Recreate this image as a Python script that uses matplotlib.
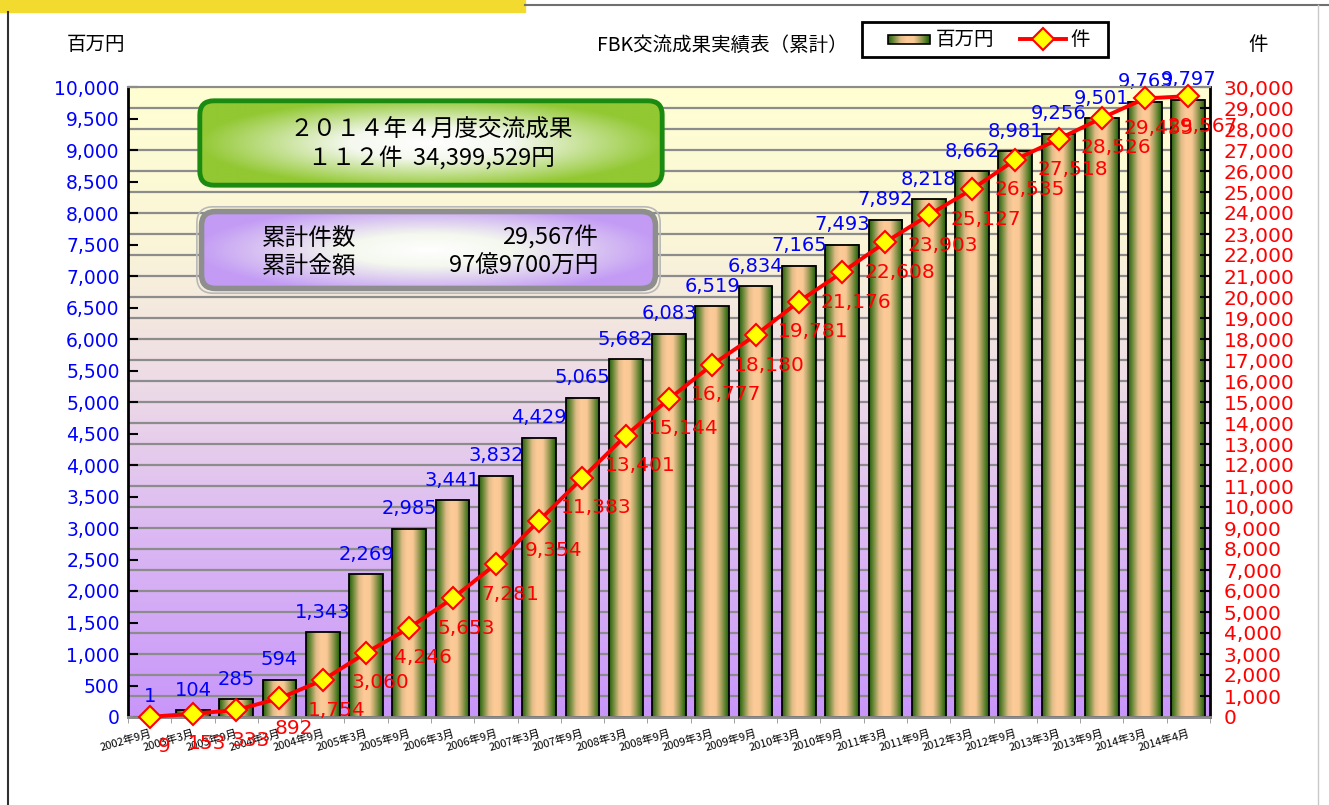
import numpy as np
import matplotlib
matplotlib.use('Agg')
import matplotlib.pyplot as plt
from matplotlib.colors import LinearSegmentedColormap
from matplotlib.patches import FancyBboxPatch, Rectangle
from matplotlib.lines import Line2D

plt.rcParams['font.family'] = ['Noto Sans CJK JP', 'DejaVu Sans']

# データ
periods = ['2002年9月', '2003年3月', '2003年9月', '2004年3月', '2004年9月',
           '2005年3月', '2005年9月', '2006年3月', '2006年9月', '2007年3月',
           '2007年9月', '2008年3月', '2008年9月', '2009年3月', '2009年9月',
           '2010年3月', '2010年9月', '2011年3月', '2011年9月', '2012年3月',
           '2012年9月', '2013年3月', '2013年9月', '2014年3月', '2014年4月']
amount = [1, 104, 285, 594, 1343, 2269, 2985, 3441, 3832, 4429, 5065, 5682, 6083,
          6519, 6834, 7165, 7493, 7892, 8218, 8662, 8981, 9256, 9501, 9763, 9797]
count = [9, 153, 333, 892, 1754, 3060, 4246, 5653, 7281, 9354, 11383, 13401, 15144,
         16777, 18180, 19781, 21176, 22608, 23903, 25127, 26535, 27518, 28526, 29455, 29567]
left_ticks = list(range(0, 10001, 500))
right_ticks = list(range(0, 30001, 1000))

W, H = 1329, 805
NUM = 'DejaVu Sans'


def fx(x):
    return x / W


def fy(y):
    return 1 - y / H


fig = plt.figure(figsize=(W / 100, H / 100), dpi=100)
fig.patch.set_facecolor('white')

# 枠の飾り
fig.patches.append(Rectangle((0, fy(12)), fx(525), 12 / H, transform=fig.transFigure,
                             color='#F2DA2E', zorder=0))
fig.lines.append(Line2D([fx(525), 1], [fy(5), fy(5)], transform=fig.transFigure,
                        color='#707070', lw=1.5))
fig.lines.append(Line2D([fx(8), fx(8)], [0, fy(12)], transform=fig.transFigure,
                        color='#303030', lw=1.5))
fig.lines.append(Line2D([fx(1318), fx(1318)], [0, fy(5)], transform=fig.transFigure,
                        color='#C8C8C8', lw=1))

ax = fig.add_axes([fx(128), fy(717), fx(1210 - 128), (717 - 87) / H])
ax2 = ax.twinx()

x = np.arange(len(periods))

# 背景グラデーション
bg_cmap = LinearSegmentedColormap.from_list(
    'bg', [(0, '#C896FA'), (0.3, '#DCBAF2'), (0.5, '#EBD7E8'), (0.75, '#FAF5D8'), (1, '#FFFFD2')])
ax.imshow(np.linspace(0, 1, 256).reshape(-1, 1), cmap=bg_cmap, origin='lower',
          extent=[-0.5, len(x) - 0.5, 0, 10000], aspect='auto', zorder=0)

for g in right_ticks[1:-1]:
    ax.axhline(g / 3, color='#8C8C8C', lw=1.6, zorder=1)

# 棒グラフ
bar_cmap = LinearSegmentedColormap.from_list(
    'bar', [(0, '#2A5E10'), (0.1, '#5E8230'), (0.3, '#E2BC88'), (0.45, '#FDCB98'),
            (0.62, '#F8C894'), (0.8, '#9A9A55'), (0.92, '#4A7A22'), (1, '#24580C')])
bars = ax.bar(x, amount, width=0.78, facecolor='none', edgecolor='black', lw=1.3, zorder=3)
for b in bars:
    ax.imshow(np.linspace(0, 1, 64).reshape(1, -1), cmap=bar_cmap,
              extent=[b.get_x(), b.get_x() + b.get_width(), 0, b.get_height()],
              aspect='auto', zorder=2)
for i, v in enumerate(amount):
    ax.annotate(f'{v:,}', (i, v), xytext=(0, 20), textcoords='offset pixels', ha='center',
                va='center', color='#0000FF', fontsize=14, family=NUM, zorder=5)

ax.set_xlim(-0.5, len(x) - 0.5)
ax.set_ylim(0, 10000)

# 折れ線
ax2.plot(x, count, color='#FF0000', lw=2.8, marker='D', ms=11, mfc='#FFFF00',
         mec='#FF0000', mew=1.5, zorder=4, clip_on=False)
for i, v in enumerate(count):
    ax2.annotate(f'{v:,}', (i, v), xytext=(14, -30), textcoords='offset pixels', ha='center',
                 va='center', color='#FF0000', fontsize=14.5, family=NUM, annotation_clip=False)
ax2.set_ylim(0, 30000)

# 軸
ax.set_yticks(left_ticks, [f'{v:,}' for v in left_ticks], fontfamily=NUM, fontsize=13.5,
              color='#0000FF')
ax.tick_params(axis='y', direction='in', length=7, width=1.5, pad=6)
ax2.set_yticks(right_ticks, [f'{v:,}' for v in right_ticks], fontfamily=NUM, fontsize=14.5,
               color='#FF0000')
ax2.tick_params(axis='y', direction='in', length=7, width=1.5, pad=10)

ax.set_xticks(x, periods, rotation=16, ha='right', rotation_mode='anchor', fontsize=8)
ax.set_xticks(np.arange(-0.5, len(x), 1), minor=True)
ax.tick_params(axis='x', which='major', length=0, pad=8)
ax.tick_params(axis='x', which='minor', length=4, color='#909090')

for a in (ax, ax2):
    a.spines['top'].set_color('#8C8C8C')
    a.spines['top'].set_linewidth(1.5)
    a.spines['bottom'].set_color('#8C8C8C')
    a.spines['bottom'].set_linewidth(2)
ax.spines['left'].set_linewidth(2)
ax.spines['right'].set_visible(False)
ax2.spines['left'].set_visible(False)
ax2.spines['right'].set_linewidth(2)

# タイトルなど
fig.text(fx(722), fy(45), 'FBK交流成果実績表（累計）', ha='center', va='center', fontsize=14)
fig.text(fx(96), fy(45), '百万円', ha='center', va='center', fontsize=14)
fig.text(fx(1258), fy(45), '件', ha='center', va='center', fontsize=14)


# 情報ボックス
def info_box(x0, y0, x1, y1, edge, fill, lw, outer=None):
    bx = fig.add_axes([fx(x0), fy(y1), fx(x1 - x0), (y1 - y0) / H])
    bx.set_xlim(0, 1)
    bx.set_ylim(0, 1)
    bx.axis('off')
    asp = (x1 - x0) / (y1 - y0)
    if outer:
        bx.add_patch(FancyBboxPatch((0.004, 0.02), 0.992, 0.96,
                                    boxstyle='round,pad=0,rounding_size=0.035',
                                    mutation_aspect=asp, fc='none', ec=outer, lw=1.2))
    m = 0.014 if outer else 0.006
    patch = FancyBboxPatch((m, m * asp), 1 - 2 * m, 1 - 2 * m * asp,
                           boxstyle='round,pad=0,rounding_size=0.03',
                           mutation_aspect=asp, fc='none', ec=edge, lw=lw, zorder=3)
    bx.add_patch(patch)
    yy, xx = np.mgrid[-1:1:120j, -1:1:400j]
    r = np.clip(np.sqrt(xx ** 2 + yy ** 2), 0, 1)
    cm = LinearSegmentedColormap.from_list('box', [(0, '#FFFFFF'), (0.35, '#F4F8EE'), (1, fill)])
    im = bx.imshow(r, cmap=cm, extent=[0, 1, 0, 1], aspect='auto', zorder=1)
    im.set_clip_path(patch)
    return bx


gb = info_box(197, 98, 665, 188, '#1A8A10', '#92C832', 3.5)
gb.text(0.5, 1 - (130 - 98) / 90, '２０１４年４月度交流成果', ha='center', va='center',
        fontsize=17, zorder=4)
gb.text(0.5, 1 - (159 - 98) / 90, '１１２件  34,399,529円', ha='center', va='center',
        fontsize=17, zorder=4)

pb = info_box(195, 205, 662, 295, '#8E8E8E', '#C39BF5', 4, outer='#B8B8B8')
for yy_, lab, val in [(238, '累計件数', '29,567件'), (266, '累計金額', '97億9700万円')]:
    yv = 1 - (yy_ - 205) / 90
    pb.text((262 - 195) / 467, yv, lab, ha='left', va='center', fontsize=17, zorder=4)
    pb.text((598 - 195) / 467, yv, val, ha='right', va='center', fontsize=17, zorder=4)

# 凡例
lg = fig.add_axes([fx(862), fy(57), fx(1108 - 862), 35 / H])
lg.set_xlim(0, 246)
lg.set_ylim(35, 0)
lg.axis('off')
lg.add_patch(Rectangle((0, 0), 246, 35, fc='white', ec='black', lw=2, clip_on=False))
lg.add_patch(Rectangle((26, 13), 42, 9, fc='none', ec='black', lw=1.2, zorder=3))
lg.imshow(np.linspace(0, 1, 64).reshape(1, -1), cmap=bar_cmap, extent=[26, 68, 22, 13],
          aspect='auto', zorder=2)
lg.text(74, 17.5, '百万円', ha='left', va='center', fontsize=14)
lg.plot([158, 204], [17.5, 17.5], color='#FF0000', lw=2.8)
lg.plot([181], [17.5], marker='D', ms=11, mfc='#FFFF00', mec='#FF0000', mew=1.5)
lg.text(208, 17.5, '件', ha='left', va='center', fontsize=14)
lg.set_xlim(0, 246)
lg.set_ylim(35, 0)

fig.savefig('out.png', dpi=100)
